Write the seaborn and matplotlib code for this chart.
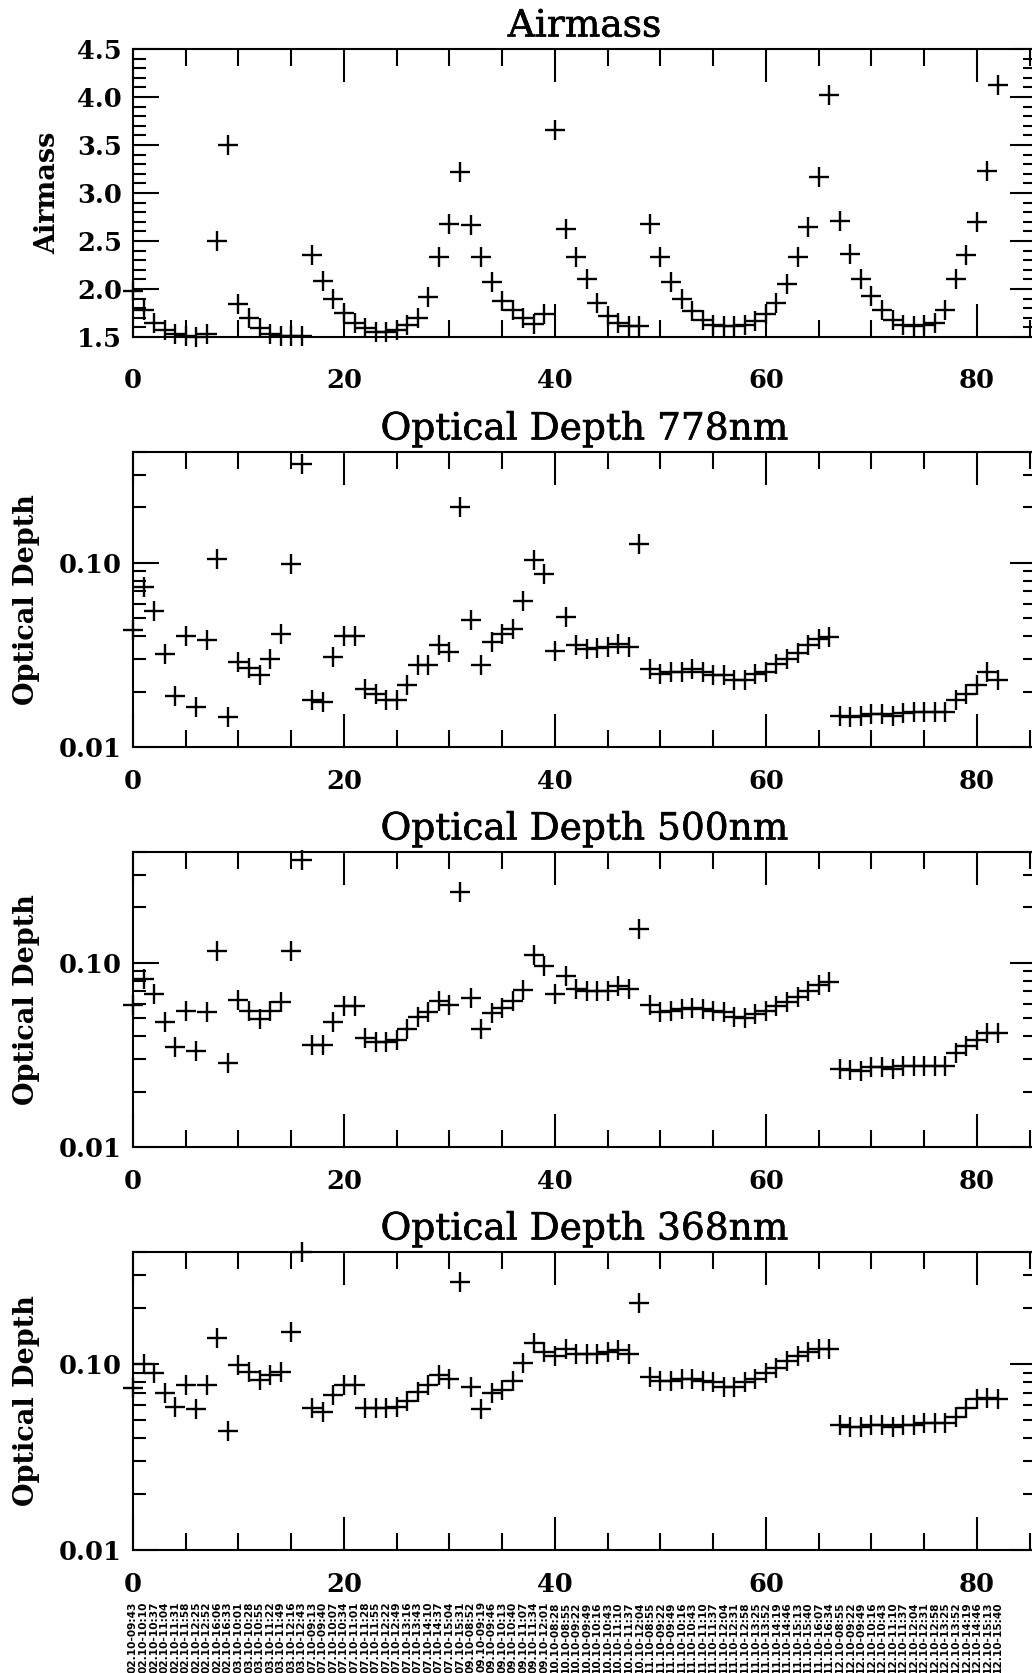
import numpy as np
import pandas as pd
import matplotlib
matplotlib.use("Agg")
import matplotlib.pyplot as plt
import matplotlib.ticker as mticker
import matplotlib.transforms as mtransforms
import matplotlib.patheffects as pe
import seaborn as sns

# ---------------- data ----------------
airmass = [1.98, 1.78, 1.65, 1.57, 1.53, 1.51, 1.50, 1.53, 2.50, 3.50,
           1.84, 1.70, 1.59, 1.53, 1.51, 1.51, 1.51,
           2.35, 2.08, 1.90, 1.75, 1.65, 1.59, 1.55, 1.55, 1.57, 1.62, 1.70, 1.92, 2.33, 2.68, 3.22,
           2.67, 2.33, 2.07, 1.88, 1.78, 1.70, 1.64, 1.74,
           3.66, 2.63, 2.33, 2.10, 1.85, 1.72, 1.65, 1.61, 1.61,
           2.68, 2.33, 2.07, 1.90, 1.77, 1.68, 1.63, 1.61, 1.61, 1.62, 1.67, 1.74, 1.85, 2.05, 2.33, 2.65, 3.17, 4.02,
           2.71, 2.36, 2.10, 1.93, 1.78, 1.68, 1.62, 1.61, 1.62, 1.65, 1.78, 2.10, 2.35, 2.70, 3.23, 4.13]

od_778 = [0.043, 0.074, 0.055, 0.032, 0.019, 0.040, 0.0165, 0.038, 0.105, 0.0145,
          0.029, 0.027, 0.0245, 0.030, 0.041, 0.099, 0.344,
          0.0179, 0.0175, 0.031, 0.040, 0.040, 0.0207, 0.0195, 0.0179, 0.0179, 0.0216, 0.028, 0.028, 0.036, 0.033, 0.200,
          0.049, 0.028, 0.037, 0.041, 0.044, 0.062, 0.104, 0.087,
          0.0334, 0.051, 0.0356, 0.0341, 0.0345, 0.0348, 0.0363, 0.0348, 0.126,
          0.0266, 0.025, 0.0255, 0.0255, 0.0266, 0.0255, 0.0245, 0.0245, 0.023, 0.023, 0.025, 0.0255, 0.0283, 0.0301, 0.0323, 0.0356, 0.0387, 0.0395,
          0.0148, 0.0145, 0.0148, 0.0151, 0.0151, 0.0148, 0.0153, 0.0155, 0.0155, 0.0155, 0.0155, 0.0179, 0.0195, 0.0216, 0.0255, 0.023]

od_500 = [0.0587, 0.082, 0.068, 0.0476, 0.035, 0.0547, 0.0332, 0.054, 0.116, 0.0286,
          0.0625, 0.0551, 0.0497, 0.0551, 0.0611, 0.116, 0.362,
          0.036, 0.036, 0.048, 0.058, 0.058, 0.039, 0.037, 0.037, 0.038, 0.044, 0.0505, 0.054, 0.062, 0.0587, 0.244,
          0.0646, 0.0438, 0.0533, 0.057, 0.0617, 0.0708, 0.111, 0.0967,
          0.068, 0.0846, 0.072, 0.070, 0.070, 0.070, 0.075, 0.072, 0.153,
          0.059, 0.054, 0.055, 0.056, 0.057, 0.056, 0.055, 0.054, 0.051, 0.050, 0.053, 0.055, 0.058, 0.061, 0.065, 0.070, 0.076, 0.079,
          0.0266, 0.0262, 0.0258, 0.0272, 0.0272, 0.0266, 0.0277, 0.0277, 0.0277, 0.0277, 0.0277, 0.0324, 0.0352, 0.0382, 0.0415, 0.0415]

od_368 = [0.0745, 0.100, 0.089, 0.070, 0.059, 0.0775, 0.057, 0.0775, 0.138, 0.0436,
          0.099, 0.091, 0.082, 0.087, 0.091, 0.148, 0.400,
          0.058, 0.055, 0.068, 0.0775, 0.0775, 0.058, 0.058, 0.058, 0.059, 0.063, 0.0706, 0.0775, 0.087, 0.083, 0.277,
          0.0755, 0.057, 0.0697, 0.0725, 0.0807, 0.101, 0.129, 0.116,
          0.110, 0.120, 0.113, 0.113, 0.113, 0.116, 0.119, 0.113, 0.212,
          0.085, 0.081, 0.081, 0.083, 0.083, 0.081, 0.080, 0.0755, 0.0755, 0.080, 0.083, 0.089, 0.095, 0.104, 0.110, 0.116, 0.120, 0.120,
          0.047, 0.046, 0.046, 0.047, 0.047, 0.046, 0.047, 0.047, 0.048, 0.048, 0.048, 0.052, 0.058, 0.065, 0.066, 0.065]

obs_labels = [
    "02.10-09:43", "02.10-10:10", "02.10-10:37", "02.10-11:04", "02.10-11:31",
    "02.10-11:58", "02.10-12:25", "02.10-12:52", "02.10-16:06", "02.10-16:33",
    "03.10-10:01", "03.10-10:28", "03.10-10:55", "03.10-11:22", "03.10-11:49",
    "03.10-12:16", "03.10-12:43",
    "07.10-09:13", "07.10-09:40", "07.10-10:07", "07.10-10:34", "07.10-11:01",
    "07.10-11:28", "07.10-11:55", "07.10-12:22", "07.10-12:49", "07.10-13:16",
    "07.10-13:43", "07.10-14:10", "07.10-14:37", "07.10-15:04", "07.10-15:31",
    "09.10-08:52", "09.10-09:19", "09.10-09:46", "09.10-10:13", "09.10-10:40",
    "09.10-11:07", "09.10-11:34", "09.10-12:01",
    "10.10-08:28", "10.10-08:55", "10.10-09:22", "10.10-09:49", "10.10-10:16",
    "10.10-10:43", "10.10-11:10", "10.10-11:37", "10.10-12:04",
    "11.10-08:55", "11.10-09:22", "11.10-09:49", "11.10-10:16", "11.10-10:43",
    "11.10-11:10", "11.10-11:37", "11.10-12:04", "11.10-12:31", "11.10-12:58",
    "11.10-13:25", "11.10-13:52", "11.10-14:19", "11.10-14:46", "11.10-15:13",
    "11.10-15:40", "11.10-16:07", "11.10-16:34",
    "12.10-08:55", "12.10-09:22", "12.10-09:49", "12.10-10:16", "12.10-10:43",
    "12.10-11:10", "12.10-11:37", "12.10-12:04", "12.10-12:31", "12.10-12:58",
    "12.10-13:25", "12.10-13:52", "12.10-14:19", "12.10-14:46", "12.10-15:13",
    "12.10-15:40",
]

panel_titles = ["Airmass", "Optical Depth 778nm", "Optical Depth 500nm", "Optical Depth 368nm"]
panel_ylabels = ["Airmass", "Optical Depth", "Optical Depth", "Optical Depth"]
x_major_ticks = [0, 20, 40, 60, 80]
od_major_ticks = [0.01, 0.1]
od_major_labels = ["0.01", "0.10"]

df = pd.DataFrame({"obs": np.arange(len(airmass)), "airmass": airmass,
                   "od778": od_778, "od500": od_500, "od368": od_368})

# ---------------- style ----------------
sns.set_theme(style="white")
plt.rcParams["font.family"] = ["DejaVu Serif"]
plt.rcParams["axes.linewidth"] = 1.5
plt.rcParams["axes.edgecolor"] = "black"
plt.rcParams["text.color"] = "black"
plt.rcParams["axes.labelcolor"] = "black"
plt.rcParams["axes.titlecolor"] = "black"
plt.rcParams["xtick.color"] = "black"
plt.rcParams["ytick.color"] = "black"

W, H = 1032, 1673
fig = plt.figure(figsize=(W / 100, H / 100), dpi=100)
fig.patch.set_facecolor("white")

def box(top, bottom, left=133, right=1036):
    return [left / W, 1 - bottom / H, (right - left) / W, (bottom - top) / H]

boxes = [box(49, 337), box(452, 747), box(852, 1147), box(1252, 1550)]
cols = ["airmass", "od778", "od500", "od368"]
xpads = [22.5, 15.5, 15.5, 15.5]
ylabel_x = [-0.094, -0.118, -0.118, -0.118]
tick_fs = 18.5

axes = []
for k in range(4):
    ax = fig.add_axes(boxes[k])
    axes.append(ax)
    sns.scatterplot(data=df, x="obs", y=cols[k], marker="+", s=190, color="black",
                    linewidth=1.7, ax=ax, clip_on=False, legend=False, zorder=3)
    ax.set_xlim(0, 85.6)
    ax.xaxis.set_major_locator(mticker.FixedLocator(x_major_ticks))
    ax.xaxis.set_minor_locator(mticker.MultipleLocator(5))
    ax.xaxis.set_major_formatter(mticker.FormatStrFormatter("%d"))
    if k == 0:
        ax.set_ylim(1.5, 4.5)
        ax.yaxis.set_major_locator(mticker.MultipleLocator(0.5))
        ax.yaxis.set_minor_locator(mticker.MultipleLocator(0.1))
        ax.yaxis.set_major_formatter(mticker.FormatStrFormatter("%.1f"))
    else:
        ax.set_yscale("log")
        ax.set_ylim(0.01, 0.4)
        ax.yaxis.set_major_locator(mticker.FixedLocator(od_major_ticks))
        ax.yaxis.set_major_formatter(mticker.FixedFormatter(od_major_labels))
        ax.yaxis.set_minor_locator(mticker.LogLocator(base=10, subs=np.arange(2, 10)))
        ax.yaxis.set_minor_formatter(mticker.NullFormatter())
    ax.tick_params(axis="x", which="major", direction="in", top=True, bottom=True,
                   length=24, width=1.5, pad=xpads[k], color="black", labelcolor="black")
    ax.tick_params(axis="x", which="minor", direction="in", top=True, bottom=True,
                   length=12, width=1.5, color="black")
    ax.tick_params(axis="y", which="major", direction="in", left=True, right=True,
                   length=19, width=1.5, pad=8, color="black", labelcolor="black")
    ax.tick_params(axis="y", which="minor", direction="in", left=True, right=True,
                   length=9.5, width=1.5, color="black")
    for lab in ax.get_xticklabels() + ax.get_yticklabels():
        lab.set_fontfamily("DejaVu Serif")
        lab.set_fontweight("bold")
        lab.set_fontsize(tick_fs)
    ax.set_xlabel("")
    ax.set_ylabel(panel_ylabels[k], fontsize=19.5, fontweight="bold",
                  family="DejaVu Serif", va="center", color="black")
    ax.yaxis.set_label_coords(ylabel_x[k], 0.5)
    t = ax.set_title(panel_titles[k], fontsize=27, family="DejaVu Serif", pad=9, color="black")
    t.set_path_effects([pe.withStroke(linewidth=0.45, foreground="black")])
    for s in ax.spines.values():
        s.set_linewidth(1.5)
        s.set_color("black")

# observation date/time labels under the bottom panel
ax = axes[-1]
trans = mtransforms.blended_transform_factory(ax.transData, ax.transAxes)
for i, lab in enumerate(obs_labels):
    ax.text(df["obs"][i], -0.172, lab, transform=trans, rotation=90, ha="center", va="top",
            fontsize=7.6, fontweight="bold", family="DejaVu Sans", color="black", clip_on=False)

fig.savefig("out.png", dpi=100, facecolor="white")
